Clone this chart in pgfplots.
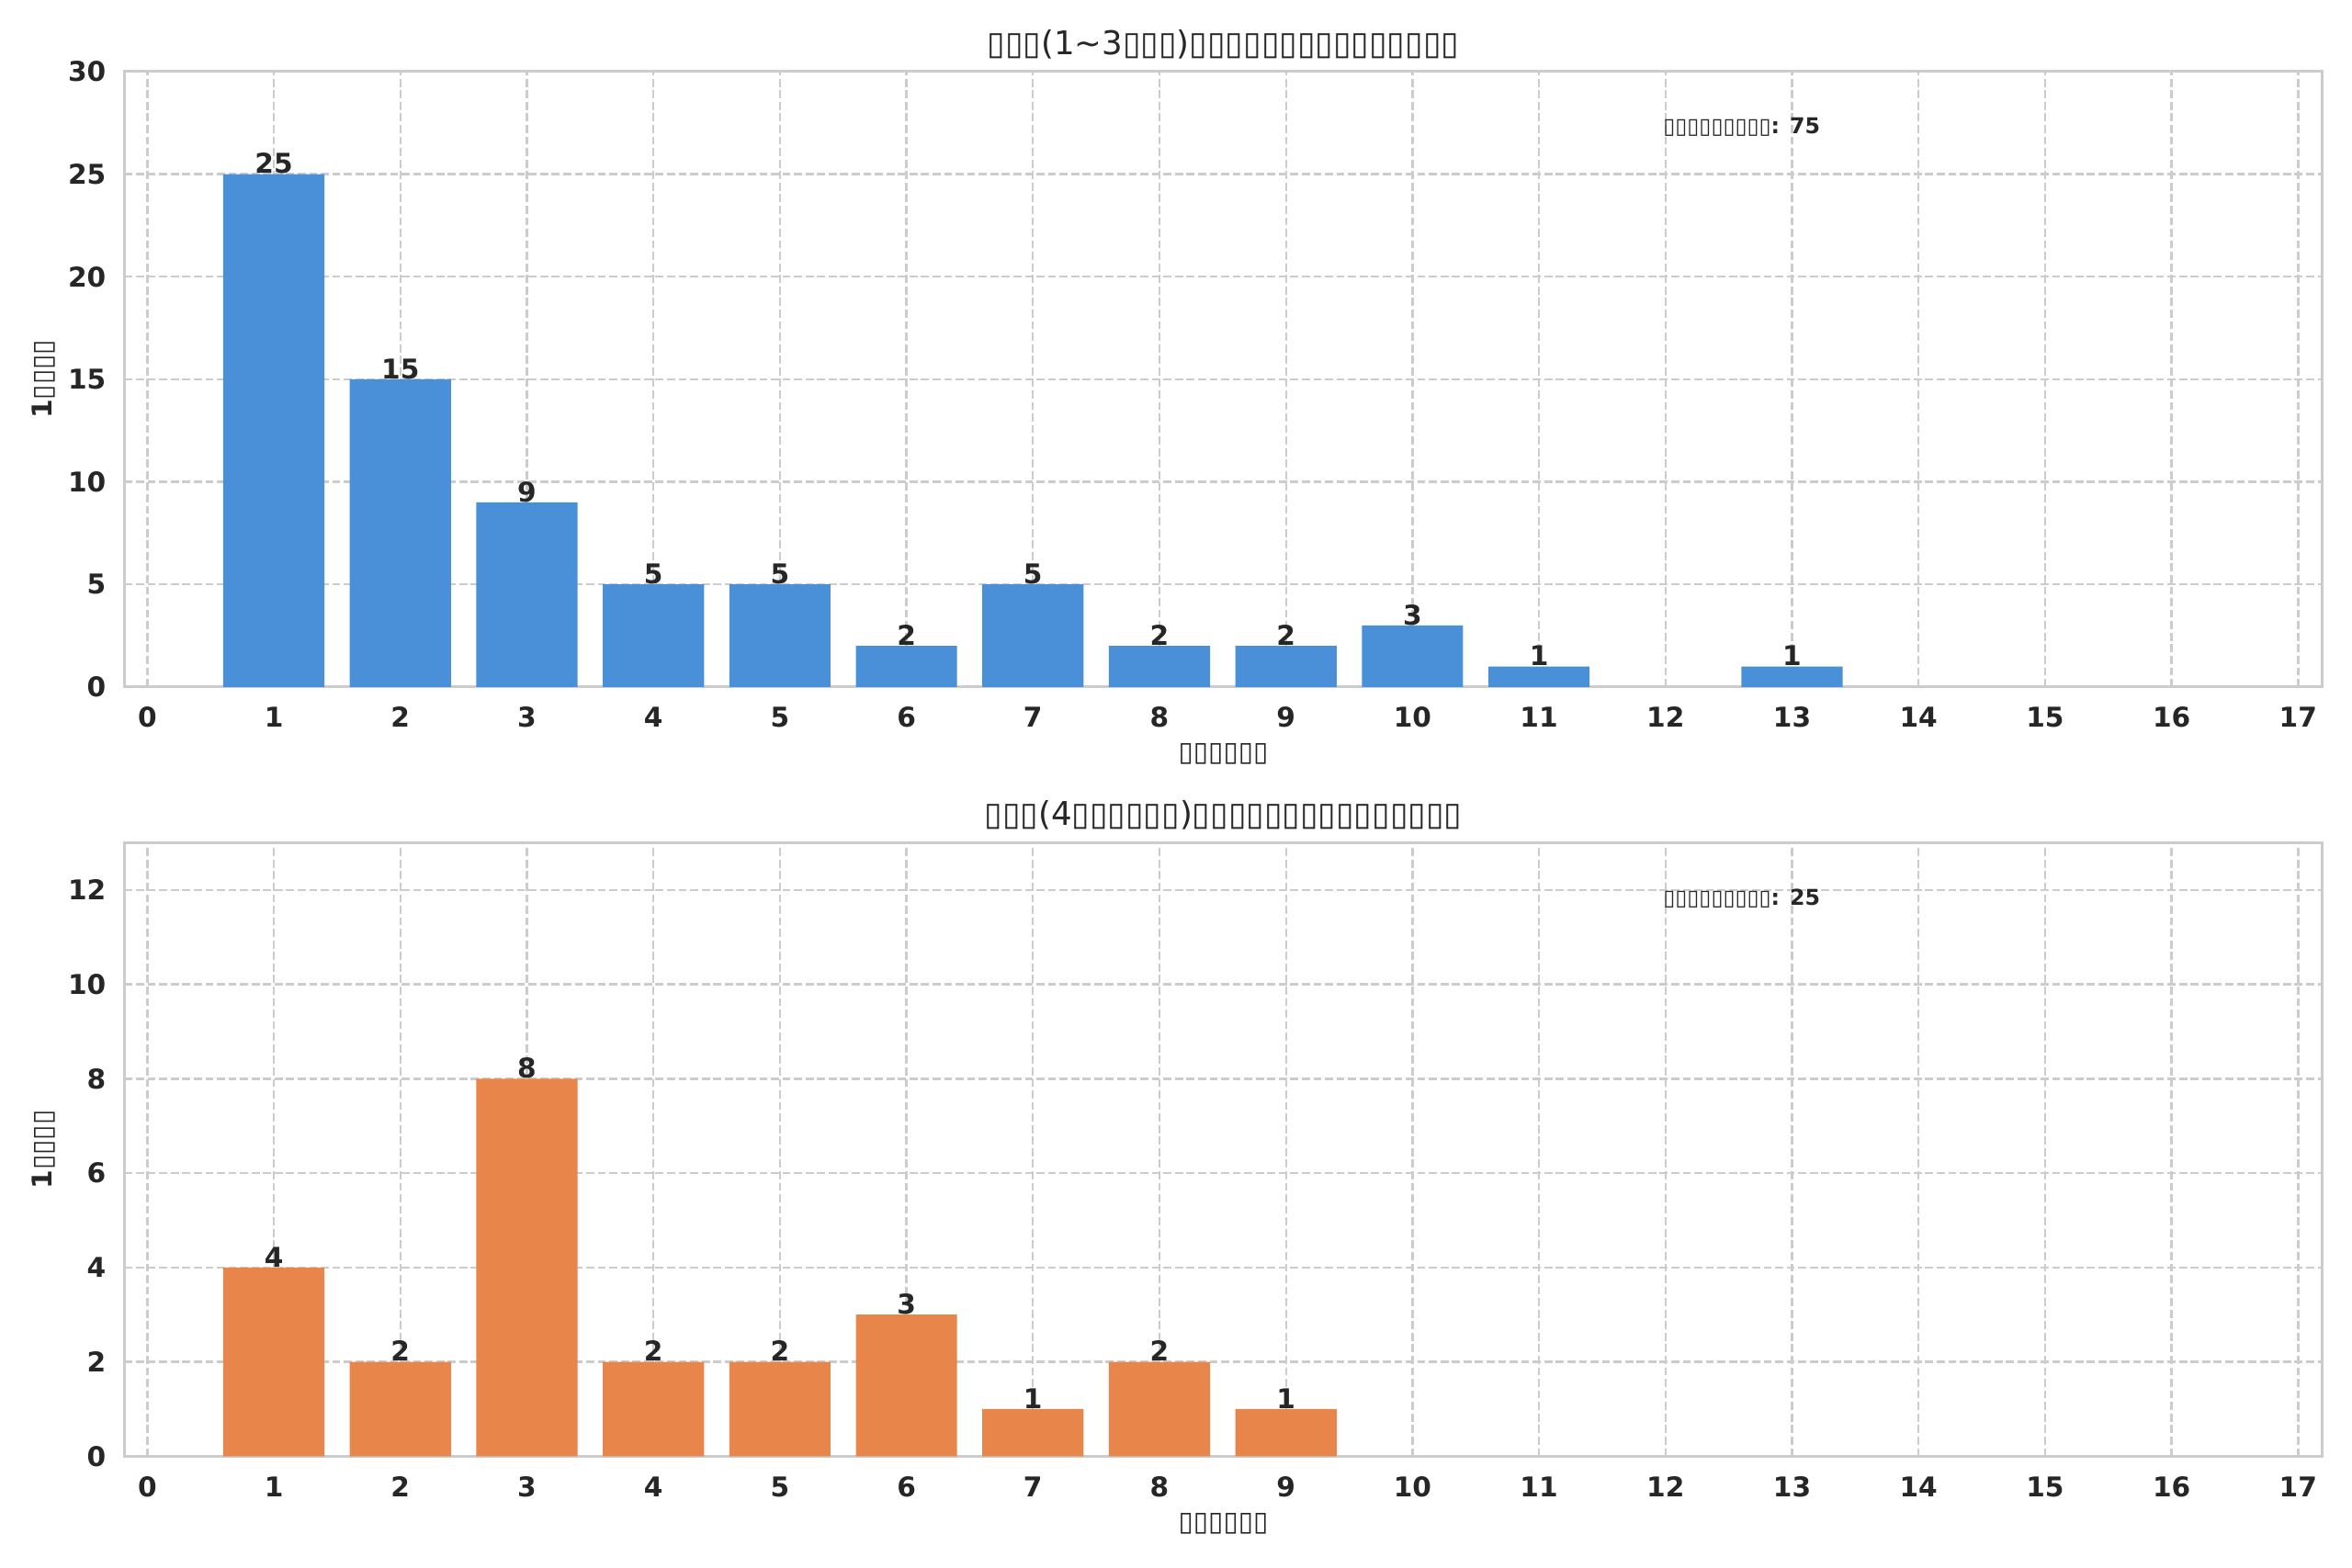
\documentclass[border=0pt]{standalone}
\usepackage{fontspec}
\setmainfont{DejaVu Sans}
\usepackage{pgfplots}
\pgfplotsset{compat=1.18}
\definecolor{barblue}{RGB}{74,144,217}
\definecolor{barorange}{RGB}{232,133,74}
\definecolor{gridc}{HTML}{CCCCCC}
\definecolor{txt}{HTML}{262626}
\newcommand{\tf}{▯}
\pgfplotsset{myax/.style={
  scale only axis, anchor=south west, width=1009.1pt,
  xmin=-0.18, xmax=17.19, ymin=0,
  xtick={0,...,17},
  grid=major,
  major grid style={gridc, line width=1pt, dash pattern=on 3.7pt off 1.6pt},
  axis line style={gridc, line width=1.25pt},
  tick style={draw=none},
  /pgf/number format/assume math mode=true,
  ticklabel style={font=\fontsize{12.5}{15}\selectfont\bfseries, text=txt},
  xticklabel style={anchor=base, yshift=-14.3pt},
  yticklabel style={anchor=east, xshift=-5pt},
  xlabel style={at={(axis description cs:0.5,0)}, anchor=center, yshift=-30.8pt, font=\fontsize{12.5}{15}\selectfont\bfseries, text=txt},
  ylabel style={at={(axis description cs:0,0.5)}, anchor=center, yshift=37.3pt, font=\fontsize{12.5}{15}\selectfont\bfseries, text=txt},
  title style={at={(axis description cs:0.5,1)}, anchor=center, yshift=6.6pt, font=\fontsize{15}{18}\selectfont, text=txt},
  ybar, bar width=0.8, bar shift=0pt,
  nodes near coords,
  nodes near coords style={font=\fontsize{12.5}{15}\selectfont\bfseries, text=txt, anchor=base, inner sep=0pt, yshift=0.3pt},
  xlabel={\tf\tf\tf\tf\tf\tf},
  ylabel={1\tf\tf\tf\tf},
}}
\begin{document}
\begin{tikzpicture}
\useasboundingbox (0,0) rectangle (1080pt,720pt);
\begin{axis}[myax, at={(57.2pt,404.5pt)}, height=282.6pt,
  ymax=30, ytick={0,5,...,30},
  title={\tf\tf\tf(1\textasciitilde3\tf\tf\tf)\tf\tf\tf\tf\tf\tf\tf\tf\tf\tf\tf\tf\tf\tf\tf}]
\addplot[draw=none, fill=barblue] coordinates {
(1,25) (2,15) (3,9) (4,5) (5,5) (6,2) (7,5) (8,2) (9,2) (10,3) (11,1) (13,1)};
\node[anchor=west, inner sep=0pt, font=\fontsize{10}{12}\selectfont\bfseries, text=txt] at (rel axis cs:0.7,0.91) {\tf\tf\tf\tf\tf\tf\tf\tf\tf: 75};
\end{axis}
\begin{axis}[myax, at={(57.2pt,51.2pt)}, height=281.7pt,
  ymax=13, ytick={0,2,...,12},
  title={\tf\tf\tf(4\tf\tf\tf\tf\tf\tf)\tf\tf\tf\tf\tf\tf\tf\tf\tf\tf\tf\tf\tf\tf\tf}]
\addplot[draw=none, fill=barorange] coordinates {
(1,4) (2,2) (3,8) (4,2) (5,2) (6,3) (7,1) (8,2) (9,1)};
\node[anchor=west, inner sep=0pt, font=\fontsize{10}{12}\selectfont\bfseries, text=txt] at (rel axis cs:0.7,0.91) {\tf\tf\tf\tf\tf\tf\tf\tf\tf: 25};
\end{axis}
\end{tikzpicture}
\end{document}
